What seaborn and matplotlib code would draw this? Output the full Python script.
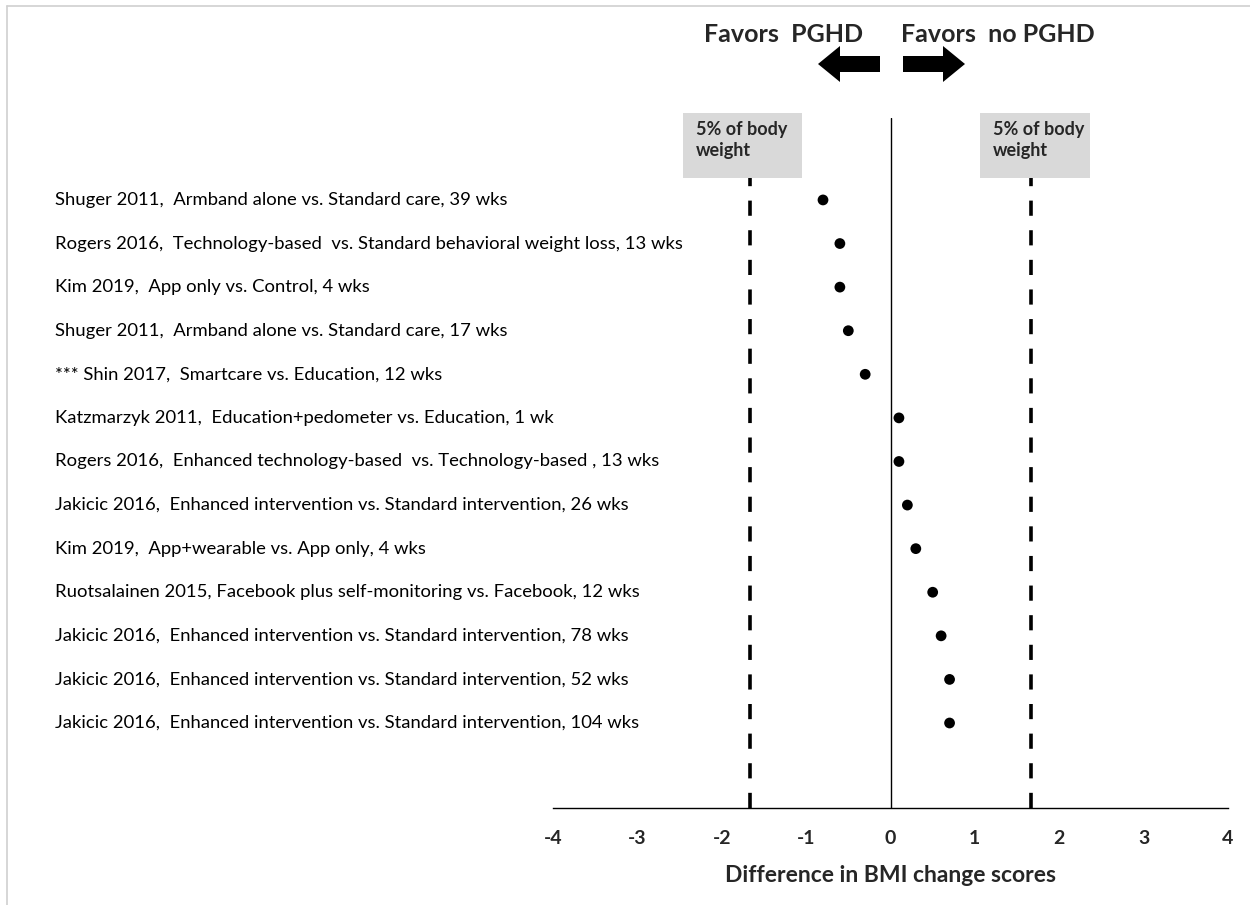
import matplotlib
matplotlib.use("Agg")
import matplotlib.pyplot as plt
import matplotlib.transforms as mtransforms
from matplotlib.patches import Polygon, Rectangle
from matplotlib.lines import Line2D
import seaborn as sns
import pandas as pd

sns.set_theme(style="white")
plt.rcParams["font.family"] = ["Lato", "DejaVu Sans"]

# Study comparisons, top to bottom
comparisons = [
    "Shuger 2011,  Armband alone vs. Standard care, 39 wks",
    "Rogers 2016,  Technology-based  vs. Standard behavioral weight loss, 13 wks",
    "Kim 2019,  App only vs. Control, 4 wks",
    "Shuger 2011,  Armband alone vs. Standard care, 17 wks",
    "*** Shin 2017,  Smartcare vs. Education, 12 wks",
    "Katzmarzyk 2011,  Education+pedometer vs. Education, 1 wk",
    "Rogers 2016,  Enhanced technology-based  vs. Technology-based , 13 wks",
    "Jakicic 2016,  Enhanced intervention vs. Standard intervention, 26 wks",
    "Kim 2019,  App+wearable vs. App only, 4 wks",
    "Ruotsalainen 2015, Facebook plus self-monitoring vs. Facebook, 12 wks",
    "Jakicic 2016,  Enhanced intervention vs. Standard intervention, 78 wks",
    "Jakicic 2016,  Enhanced intervention vs. Standard intervention, 52 wks",
    "Jakicic 2016,  Enhanced intervention vs. Standard intervention, 104 wks",
]
# Difference in BMI change scores for each comparison
bmi_diff = [-0.8, -0.6, -0.6, -0.5, -0.3, 0.1, 0.1, 0.2, 0.3, 0.5, 0.6, 0.7, 0.7]
# Clinically meaningful threshold (5% of body weight) in BMI units
threshold = 1.67
x_ticks = [-4, -3, -2, -1, 0, 1, 2, 3, 4]

df = pd.DataFrame({"comparison": comparisons, "diff": bmi_diff,
                   "row": range(len(comparisons))})

W, H = 1250, 905
fig = plt.figure(figsize=(W / 100, H / 100), dpi=100)
fig.patch.set_facecolor("white")

# light page frame
fig.add_artist(Line2D([7 / W, 7 / W], [0, 1 - 6 / H], color="#d0d0d0", lw=1.2))
fig.add_artist(Line2D([7 / W, 1], [1 - 6 / H, 1 - 6 / H], color="#d0d0d0", lw=1.2))

ax = fig.add_axes([553 / W, (H - 808) / H, 675 / W, 690 / H])
ax.set_facecolor("none")

sns.scatterplot(data=df, x="diff", y="row", ax=ax, color="black", s=60,
                edgecolor="none", zorder=5, legend=False)

ax.set_xlim(-4, 4)
ax.set_ylim(13.95, -1.88)
ax.set_xticks(x_ticks)
ax.set_xticklabels([str(t) for t in x_ticks], fontsize=14, fontweight="bold")
ax.tick_params(axis="x", length=0, pad=16)
ax.set_yticks([])
ax.set_xlabel("Difference in BMI change scores", fontsize=16.5, fontweight="bold",
              labelpad=13)
ax.set_ylabel("")
for s in ["top", "left", "right"]:
    ax.spines[s].set_visible(False)
ax.spines["bottom"].set_color("black")
ax.spines["bottom"].set_linewidth(1.0)

# zero line and threshold lines
ax.axvline(0, color="black", lw=1.0, zorder=2)
for xv in (-threshold, threshold):
    ax.axvline(xv, ymin=0, ymax=1, color="black", lw=2.6,
               linestyle=(0, (4.2, 4.0)), zorder=2)

# comparison labels, left aligned in figure coordinates
trans = mtransforms.blended_transform_factory(fig.transFigure, ax.transData)
for r, lab in zip(df["row"], df["comparison"]):
    ax.text(55 / W, r, lab, transform=trans, ha="left", va="center",
            fontsize=13.3, color="black", clip_on=False)

# threshold captions on grey boxes
def px(x, y):
    return (x / W, 1 - y / H)

for x0, x1 in ((683, 802), (980, 1090)):
    fig.add_artist(Rectangle(px(x0, 178), (x1 - x0) / W, (178 - 113) / H,
                             transform=fig.transFigure, facecolor="#d9d9d9",
                             edgecolor="none", zorder=3))
    fig.text((x0 + 13) / W, 1 - 140 / H, "5% of body\nweight", ha="left",
             va="center", fontsize=13, fontweight="bold", linespacing=1.32,
             zorder=4)

# direction header
fig.text(784 / W, 1 - 34 / H, "Favors  PGHD", ha="center", va="center",
         fontsize=18, fontweight="bold")
fig.text(998 / W, 1 - 34 / H, "Favors  no PGHD", ha="center", va="center",
         fontsize=18, fontweight="bold")

left_arrow = [(818, 64), (840, 46), (840, 56), (880, 56), (880, 72), (840, 72), (840, 82)]
right_arrow = [(965, 64), (943, 46), (943, 56), (903, 56), (903, 72), (943, 72), (943, 82)]
for pts in (left_arrow, right_arrow):
    fig.add_artist(Polygon([px(x, y) for x, y in pts], closed=True,
                           transform=fig.transFigure, facecolor="black",
                           edgecolor="none"))

fig.savefig("out.png", dpi=100)
